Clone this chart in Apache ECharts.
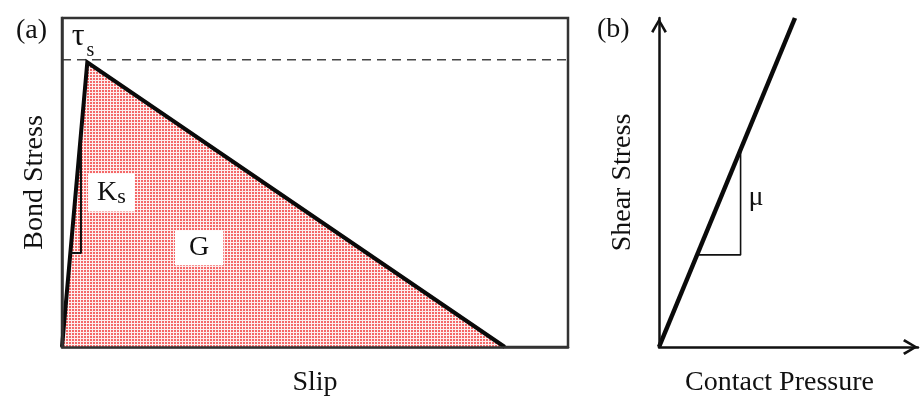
<!DOCTYPE html>
<html><head><meta charset="utf-8">
<script src="https://cdn.jsdelivr.net/npm/echarts@6/dist/echarts.min.js"></script>
<style>html,body{margin:0;padding:0;background:#fff}#c{width:921px;height:402px}</style>
</head><body><div id="c"></div>
<script>
// ---------- Panel (a): bond stress vs slip (schematic units 0-100) ----------
const slipPts = [0, 5, 87.5];
const bondPts = [0, 86.5, 0];
const tauS = 87.3;
const ksTriX = [1.64, 3.75, 3.75];
const ksTriY = [28.6, 28.6, 65];
const labelsA = [
  { name: 'tau', x: 4.15, y: 94.5 },
  { name: 'Ks', x: 9.78, y: 46.96 },
  { name: 'G', x: 27.1, y: 30.2 }
];
// ---------- Panel (b): shear stress vs contact pressure ----------
const pressPts = [0, 52.5];
const shearPts = [0, 100];
const muTriX = [14.7, 31.5, 31.5];
const muTriY = [28, 28, 60];
const labelsB = [{ name: 'mu', x: 37.5, y: 45.4 }];

const FONT = 'Liberation Serif';
const INK = '#111111';

// red dotted fill pattern
const pat = document.createElement('canvas');
pat.width = 3; pat.height = 3;
const pctx = pat.getContext('2d');
pctx.fillStyle = '#fdeeee'; pctx.fillRect(0, 0, 3, 3);
pctx.fillStyle = '#f46868'; pctx.fillRect(0, 0, 2, 2);

const zip = (xs, ys) => xs.map((x, i) => [x, ys[i]]);
const chevron = 'path://M5,0 L10,8.5 L8.6,9.5 L5,3 L1.4,9.5 L0,8.5 Z';

const chart = echarts.init(document.getElementById('c'), null, { renderer: 'canvas' });
chart.setOption({
  backgroundColor: '#ffffff',
  animation: false,
  textStyle: { fontFamily: FONT, color: INK },
  title: [
    { text: '(a)', left: 11, top: 12, textStyle: { fontFamily: FONT, fontSize: 28, fontWeight: 'normal', color: INK } },
    { text: '(b)', left: 592, top: 11, textStyle: { fontFamily: FONT, fontSize: 28, fontWeight: 'normal', color: INK } }
  ],
  grid: [
    { left: 62, top: 18, width: 506, height: 329, show: true, borderColor: '#333', borderWidth: 2.5, backgroundColor: 'transparent' },
    { left: 659, top: 18, width: 259, height: 329 }
  ],
  xAxis: [
    { gridIndex: 0, type: 'value', min: 0, max: 100, z: 5,
      name: 'Slip', nameLocation: 'middle', nameGap: 22,
      nameTextStyle: { fontFamily: FONT, fontSize: 28, color: INK },
      axisLine: { show: true, lineStyle: { color: '#333', width: 2.5 } },
      axisTick: { show: false }, axisLabel: { show: false }, splitLine: { show: false } },
    { gridIndex: 1, type: 'value', min: 0, max: 100, z: 5,
      name: 'Contact Pressure', nameLocation: 'middle', nameGap: 22,
      nameTextStyle: { fontFamily: FONT, fontSize: 28, color: INK, padding: [0, 18, 0, 0] },
      axisLine: { show: true, symbol: ['none', chevron], symbolSize: [21, 15], symbolOffset: [0, -7.5],
        lineStyle: { color: INK, width: 2.5 } },
      axisTick: { show: false }, axisLabel: { show: false }, splitLine: { show: false } }
  ],
  yAxis: [
    { gridIndex: 0, type: 'value', min: 0, max: 100, z: 5,
      name: 'Bond Stress', nameLocation: 'middle', nameGap: 13,
      nameTextStyle: { fontFamily: FONT, fontSize: 28, color: INK },
      axisLine: { show: true, lineStyle: { color: '#333', width: 2.5 } },
      axisTick: { show: false }, axisLabel: { show: false }, splitLine: { show: false } },
    { gridIndex: 1, type: 'value', min: 0, max: 100, z: 5,
      name: 'Shear Stress', nameLocation: 'middle', nameGap: 22,
      nameTextStyle: { fontFamily: FONT, fontSize: 28, color: INK },
      axisLine: { show: true, symbol: ['none', chevron], symbolSize: [21, 15], symbolOffset: [0, -7.5],
        lineStyle: { color: INK, width: 2.5 } },
      axisTick: { show: false }, axisLabel: { show: false }, splitLine: { show: false } }
  ],
  series: [
    { type: 'line', xAxisIndex: 0, yAxisIndex: 0, z: 2, symbol: 'none',
      data: zip(slipPts, bondPts),
      lineStyle: { color: '#0a0a0a', width: 4, join: 'miter' },
      areaStyle: { color: { image: pat, repeat: 'repeat' }, opacity: 1 } },
    { type: 'line', xAxisIndex: 0, yAxisIndex: 0, z: 1, symbol: 'none',
      data: [[0, tauS], [100, tauS]],
      lineStyle: { color: '#444', width: 1.6, type: [9, 6] } },
    { type: 'line', xAxisIndex: 0, yAxisIndex: 0, z: 3, symbol: 'none',
      data: zip(ksTriX, ksTriY),
      lineStyle: { color: '#111', width: 2 } },
    { type: 'scatter', xAxisIndex: 0, yAxisIndex: 0, z: 6, symbolSize: 0,
      itemStyle: { opacity: 1 },
      data: labelsA.map(d => ({ name: d.name, value: [d.x, d.y],
        label: d.name === 'Ks' ? { backgroundColor: '#fff', padding: [5, 9, 5, 9] }
             : d.name === 'G' ? { backgroundColor: '#fff', padding: [3, 14, 4, 14] } : {} })),
      label: { show: true, position: 'inside', color: INK, fontFamily: FONT, opacity: 1,
        formatter: p => p.name === 'tau' ? '{t|τ}{s|s}' : (p.name === 'Ks' ? '{k|K}{ks|s}' : '{g|G}'),
        rich: {
          t: { fontFamily: FONT, fontSize: 32, lineHeight: 30, padding: [0, 2, 0, 0], color: INK },
          s: { fontFamily: FONT, fontSize: 20, lineHeight: 20, padding: [30, 0, 0, 0], color: INK },
          k: { fontFamily: FONT, fontSize: 28, lineHeight: 28, color: INK },
          ks: { fontFamily: FONT, fontSize: 22, lineHeight: 22, padding: [10, 0, 0, 0], color: INK },
          g: { fontFamily: FONT, fontSize: 28, lineHeight: 28, color: INK }
        }
      },
      emphasis: { disabled: true } },
    { type: 'line', xAxisIndex: 1, yAxisIndex: 1, z: 2, symbol: 'none',
      data: zip(pressPts, shearPts),
      lineStyle: { color: '#0a0a0a', width: 4.5 } },
    { type: 'line', xAxisIndex: 1, yAxisIndex: 1, z: 1, symbol: 'none',
      data: zip(muTriX, muTriY),
      lineStyle: { color: '#111', width: 1.6 } },
    { type: 'scatter', xAxisIndex: 1, yAxisIndex: 1, z: 6, symbolSize: 0,
      itemStyle: { opacity: 1 },
      data: labelsB.map(d => ({ name: d.name, value: [d.x, d.y] })),
      label: { show: true, position: 'inside', color: INK, fontFamily: FONT, fontSize: 28, opacity: 1,
        formatter: () => 'μ' },
      emphasis: { disabled: true } }
  ]
});
</script></body></html>
